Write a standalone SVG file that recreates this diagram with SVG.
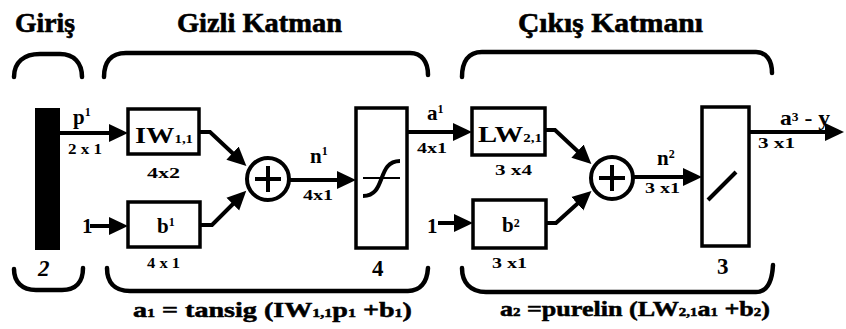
<svg xmlns="http://www.w3.org/2000/svg" width="846" height="329" viewBox="0 0 846 329" font-family="'Liberation Serif', 'DejaVu Serif', 'Times New Roman', serif">
<style>
text{font-family:'Liberation Serif','DejaVu Serif','Times New Roman',serif;font-weight:bold;fill:#000}
.title{font-size:27px;stroke:#000;stroke-width:0.6}
.lbl{font-size:21px}
.dim{font-size:15px}
.big{font-size:23px}
.sm{font-size:12px}
.frm{font-size:21px;stroke:#000;stroke-width:0.5}
.box{fill:none;stroke:#000;stroke-width:3.5}
.br{fill:none;stroke:#000;stroke-width:4.5;stroke-linecap:round}
.ln{fill:none;stroke:#000;stroke-width:4}
.cn{fill:none;stroke:#000;stroke-width:4;stroke-linejoin:miter}
</style>
<defs>
<marker id="ah" markerUnits="userSpaceOnUse" markerWidth="22" markerHeight="22" viewBox="0 -11 22 22" refX="13" refY="0" orient="auto">
<path d="M0,-9 L19,0 L0,9 z" fill="#000"/>
</marker>
</defs>
<rect width="846" height="329" fill="#fff"/>

<g id="titles">
<text class="title" x="15" y="32" textLength="60" lengthAdjust="spacingAndGlyphs">Giriş</text>
<text class="title" x="177" y="32" textLength="165" lengthAdjust="spacingAndGlyphs">Gizli Katman</text>
<text class="title" x="518" y="32" textLength="185" lengthAdjust="spacingAndGlyphs">Çıkış Katmanı</text>
</g>

<g id="brackets">
<path class="br" d="M14,77 C14,62 24,54 40,54 L60,54 C74,54 82,63 82,77"/>
<path class="br" d="M104,77 C104,63 110,53 126,53 L410,53 C422,53 428,62 428,75"/>
<path class="br" d="M462,77 C462,62 468,52 482,52 L756,52 C766,52 772,60 772,73"/>
<path class="br" d="M14,269 C14,282 22,290 36,290 L62,290 C76,290 83,282 83,268"/>
<path class="br" d="M107,268 C107,282 114,291 130,291 L408,291 C420,291 427,283 428,268"/>
<path class="br" d="M462,268 C462,282 470,292 486,292 L756,292 C766,292 772,284 773,265"/>
</g>

<g id="connectors">
<line class="ln" x1="60" y1="133" x2="122" y2="133" marker-end="url(#ah)"/>
<line class="ln" x1="90" y1="226" x2="122" y2="226" marker-end="url(#ah)"/>
<polyline class="cn" points="198,132 210,132 242,162" marker-end="url(#ah)"/>
<polyline class="cn" points="200,225 212,225 242,195" marker-end="url(#ah)"/>
<line class="ln" x1="289" y1="180" x2="350" y2="180" marker-end="url(#ah)"/>
<line class="ln" x1="407" y1="132" x2="466" y2="132" marker-end="url(#ah)"/>
<line class="ln" x1="438" y1="223" x2="467" y2="223" marker-end="url(#ah)"/>
<polyline class="cn" points="545,130 555,130 587,160" marker-end="url(#ah)"/>
<polyline class="cn" points="545,223 556,223 587,195" marker-end="url(#ah)"/>
<line class="ln" x1="633" y1="177" x2="696" y2="177" marker-end="url(#ah)"/>
<line class="ln" x1="748" y1="132" x2="838" y2="132" marker-end="url(#ah)"/>
</g>

<g id="input">
<rect x="35" y="108" width="25" height="142" fill="#000"/>
<text class="big" x="38" y="276" font-style="italic">2</text>
</g>

<g id="IW">
<rect class="box" x="128" y="109" width="71" height="45"/>
<text x="135" y="143" textLength="58" lengthAdjust="spacingAndGlyphs"><tspan class="big">IW</tspan><tspan class="sm">1,1</tspan></text>
<text class="dim" x="147" y="178" textLength="33" lengthAdjust="spacingAndGlyphs">4x2</text>
</g>

<g id="b1">
<rect class="box" x="128" y="202" width="72" height="45"/>
<text x="157" y="233"><tspan class="lbl">b</tspan><tspan class="sm" dy="-7">1</tspan></text>
<text class="dim" x="147" y="268" textLength="33" lengthAdjust="spacingAndGlyphs">4 x 1</text>
</g>

<g id="sum1">
<circle cx="268" cy="179" r="21" fill="none" stroke="#000" stroke-width="4"/>
<line class="ln" x1="255" y1="179" x2="281" y2="179"/>
<line class="ln" x1="268" y1="166" x2="268" y2="192"/>
</g>

<g id="tansig">
<rect class="box" x="356" y="108" width="51" height="140"/>
<line x1="363" y1="178" x2="400" y2="178" stroke="#000" stroke-width="2"/>
<path class="ln" d="M363,196 C387,196 376,161 400,161"/>
<text class="big" x="372" y="276">4</text>
</g>

<g id="LW">
<rect class="box" x="472" y="108" width="73" height="47"/>
<text x="478" y="142" textLength="64" lengthAdjust="spacingAndGlyphs"><tspan class="big">LW</tspan><tspan class="sm">2,1</tspan></text>
<text class="dim" x="495" y="175" textLength="37" lengthAdjust="spacingAndGlyphs">3 x4</text>
</g>

<g id="b2">
<rect class="box" x="473" y="200" width="73" height="48"/>
<text x="502" y="232"><tspan class="lbl">b</tspan><tspan class="sm" dy="-5">2</tspan></text>
<text class="dim" x="492" y="268" textLength="35" lengthAdjust="spacingAndGlyphs">3 x1</text>
</g>

<g id="sum2">
<circle cx="612" cy="178" r="21" fill="none" stroke="#000" stroke-width="4"/>
<line class="ln" x1="599" y1="178" x2="625" y2="178"/>
<line class="ln" x1="612" y1="165" x2="612" y2="191"/>
</g>

<g id="purelin">
<rect class="box" x="702" y="107" width="47" height="139"/>
<line class="ln" x1="708" y1="200" x2="736" y2="172"/>
<text class="big" x="717" y="274">3</text>
</g>

<g id="labels">
<text x="73" y="124"><tspan class="lbl">p</tspan><tspan class="sm" dy="-8">1</tspan></text>
<text class="dim" x="68" y="154" textLength="34" lengthAdjust="spacingAndGlyphs">2 x 1</text>
<text class="lbl" x="82" y="233">1</text>
<text x="310" y="163"><tspan class="lbl">n</tspan><tspan class="sm" dy="-8">1</tspan></text>
<text class="dim" x="303" y="200" textLength="30" lengthAdjust="spacingAndGlyphs">4x1</text>
<text x="427" y="120"><tspan class="lbl">a</tspan><tspan class="sm" dy="-7">1</tspan></text>
<text class="dim" x="417" y="153" textLength="30" lengthAdjust="spacingAndGlyphs">4x1</text>
<text class="lbl" x="427" y="233">1</text>
<text x="657" y="165"><tspan class="lbl">n</tspan><tspan class="sm" dy="-7">2</tspan></text>
<text class="dim" x="645" y="193" textLength="35" lengthAdjust="spacingAndGlyphs">3 x1</text>
<text x="780" y="125" textLength="50" lengthAdjust="spacingAndGlyphs"><tspan class="lbl">a</tspan><tspan class="sm" dy="-4">3</tspan><tspan class="lbl" dy="4"> - y</tspan></text>
<text class="dim" x="758" y="148" textLength="37" lengthAdjust="spacingAndGlyphs">3 x1</text>
</g>

<g id="formulas">
<text class="frm" x="133" y="317" textLength="279" lengthAdjust="spacingAndGlyphs">a<tspan class="sm">1</tspan> = tansig (IW<tspan class="sm">1,1</tspan>p<tspan class="sm">1</tspan> +b<tspan class="sm">1</tspan>)</text>
<text class="frm" x="500" y="316" textLength="270" lengthAdjust="spacingAndGlyphs">a<tspan class="sm">2</tspan> =purelin (LW<tspan class="sm">2,1</tspan>a<tspan class="sm">1</tspan> +b<tspan class="sm">2</tspan>)</text>
</g>
</svg>
